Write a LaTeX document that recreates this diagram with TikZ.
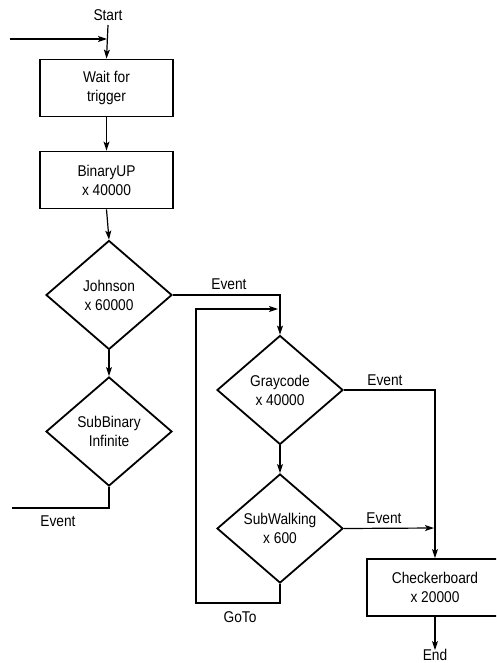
\documentclass[tikz,border=0pt]{standalone}
\usepackage{fontspec}
\setmainfont{Liberation Sans}[FakeStretch=0.88]
\usetikzlibrary{shapes.geometric,arrows.meta}
\begin{document}
\begin{tikzpicture}[x=1pt,y=-1pt,
  every node/.style={font=\fontsize{15.6}{19}\selectfont, inner sep=0pt},
  procbox/.style={draw, line width=1.8pt, rectangle, align=center, minimum width=133pt, minimum height=57pt},
  decision/.style={draw, line width=1.8pt, diamond, align=center, minimum width=126pt, minimum height=109pt},
  conn/.style={line width=1.2pt},
  arr/.style={conn, -{Stealth[length=9pt,width=6pt,inset=2pt]}},
  lbl/.style={}]
\clip (0,0) rectangle (496,663);
\fill[white] (0,0) rectangle (496,663);
% nodes
\node[lbl] (start) at (108,15) {Start};
\node[procbox] (wait) at (106.5,88) {Wait for\\trigger};
\node[procbox] (binary) at (106.5,180) {BinaryUP\\x 40000};
\node[decision] (johnson) at (109,295) {Johnson\\x 60000};
\node[decision] (subbin) at (109,431.5) {SubBinary\\Infinite};
\node[decision] (gray) at (280,390) {Graycode\\x 40000};
\node[decision] (subwalk) at (280,528.5) {SubWalking\\x 600};
\node[procbox, minimum width=136pt] (check) at (435,587.5) {Checkerboard\\x 20000};
\node[lbl] (endn) at (435,655) {End};
\node[lbl] (ev1) at (58,521) {Event};
\node[lbl] (ev2) at (229,284) {Event};
\node[lbl] (ev3) at (385,380) {Event};
\node[lbl] (ev4) at (384,518) {Event};
\node[lbl] (gotol) at (240,617) {GoTo};
% coordinates
\coordinate (inS) at (10,39);
\coordinate (inE) at (107,39);
\coordinate (subout) at (12,508);
\coordinate (jcorner) at (280,295);
\coordinate (loopin) at (278,309);
\coordinate (loopx) at (196,603);
\coordinate (gcorner) at (435,390);
\coordinate (swend) at (434,528);
% connectors
\draw[arr] (inS) -- (inE);
\draw[arr] (108,25) -- (wait.north);
\draw[arr] (wait.south) -- (binary.north);
\draw[arr] (binary.south) -- (johnson.north);
\draw[arr] (johnson.south) -- (subbin.north);
\draw[conn] (subbin.south) |- (subout);
\draw[arr] (johnson.east) -- (jcorner) -- (gray.north);
\draw[arr] (gray.south) -- (subwalk.north);
\draw[arr] (subwalk.south) |- (loopx) |- (loopin);
\draw[arr] (gray.east) -- (gcorner) -- (check.north);
\draw[arr] (subwalk.east) -- (swend);
\draw[arr] (check.south) -- ([yshift=-1pt]endn.north);
\end{tikzpicture}
\end{document}
